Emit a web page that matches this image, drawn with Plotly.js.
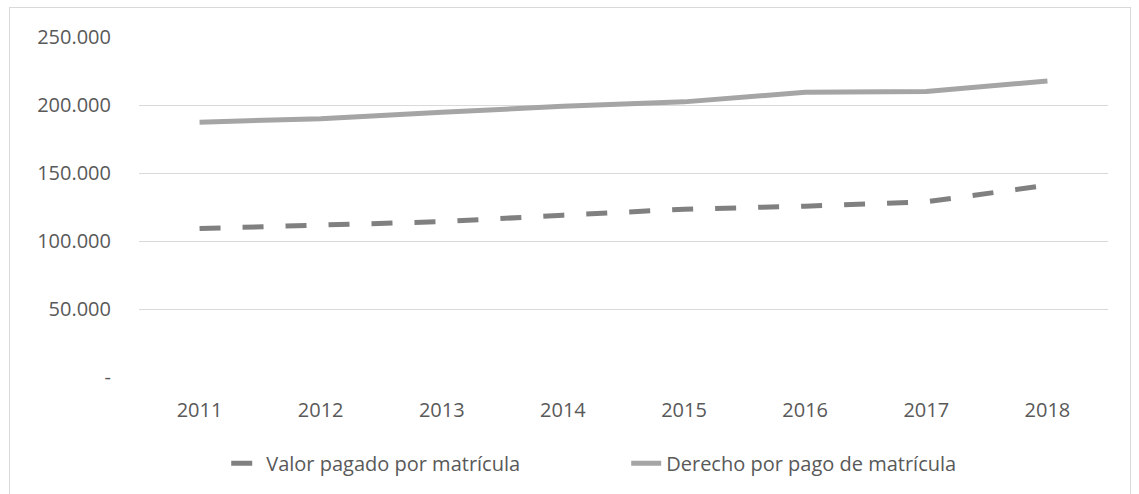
<!DOCTYPE html>
<html>
<head>
<meta charset="utf-8">
<script src="https://cdn.plot.ly/plotly-3.0.1.min.js"></script>
<style>
  html, body { margin: 0; padding: 0; background: #fff; }
  #chart { width: 1139px; height: 494px; }
  #frame { position: absolute; left: 9px; top: 7px; width: 1120px; height: 500px; border: 1px solid #d9d9d9; pointer-events: none; }
</style>
</head>
<body>
<div id="chart"></div>
<div id="frame"></div>
<script>
const years = ["2011", "2012", "2013", "2014", "2015", "2016", "2017", "2018"];
const valorPagado = [109200, 112000, 114200, 119000, 123400, 125600, 128800, 141000];
const derechoPago = [187400, 189900, 194700, 199000, 202300, 209400, 209900, 217700];
const yTickVals = [0, 50000, 100000, 150000, 200000, 250000];
const yTickText = ["-", "50.000", "100.000", "150.000", "200.000", "250.000"];

const traces = [
  {
    x: years, y: valorPagado, type: "scatter", mode: "lines",
    name: "Valor pagado por matrícula",
    line: { color: "#808080", width: 5, dash: "21px,22px" }
  },
  {
    x: years, y: derechoPago, type: "scatter", mode: "lines",
    name: "Derecho por pago de matrícula",
    line: { color: "#a5a5a5", width: 5 }
  }
];

const layout = {
  width: 1139, height: 494,
  margin: { l: 139, r: 31, t: 37, b: 116 },
  paper_bgcolor: "#ffffff", plot_bgcolor: "#ffffff",
  font: { family: "Open Sans, sans-serif", size: 20, color: "#595959" },
  showlegend: true,
  legend: {
    orientation: "h", x: 0.09, xanchor: "left", y: -0.25, yanchor: "middle",
    font: { size: 20, color: "#595959" }, entrywidth: 355, traceorder: "normal"
  },
  xaxis: {
    type: "category", range: [-0.5, 7.5], showgrid: false, zeroline: false,
    showline: false, ticks: "", ticklabelstandoff: 19,
    tickfont: { size: 20, color: "#595959" }
  },
  yaxis: {
    range: [0, 250000], tickvals: yTickVals, ticktext: yTickText,
    showgrid: true, gridcolor: "#d9d9d9", gridwidth: 1, zeroline: false,
    showline: false, ticks: "", ticklabelstandoff: 27,
    tickfont: { size: 20, color: "#595959" }
  }
};

Plotly.newPlot("chart", traces, layout, { displayModeBar: false, staticPlot: true });
</script>
</body>
</html>
